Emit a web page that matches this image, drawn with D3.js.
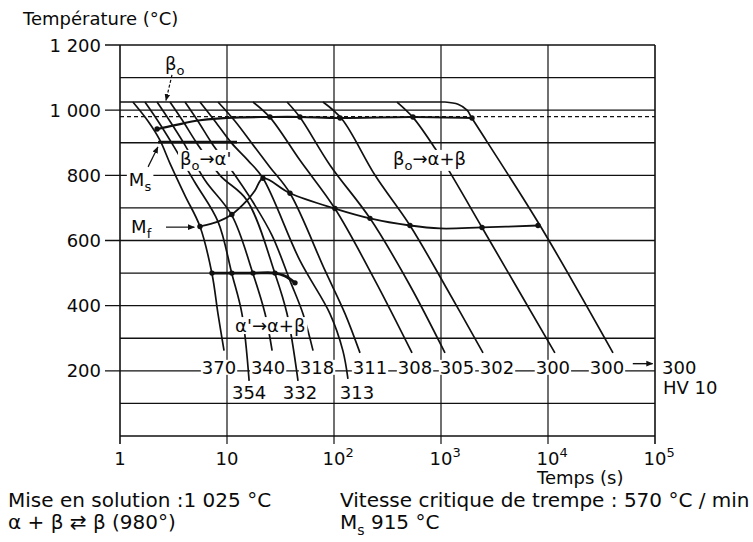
<!DOCTYPE html>
<html><head><meta charset="utf-8">
<script src="https://cdn.jsdelivr.net/npm/d3@7"></script>
<style>
body{margin:0;background:#fff}
svg{display:block}
text{font-family:"DejaVu Sans",sans-serif;fill:#0a0a0a}
</style>
</head><body>
<svg id="c" width="753" height="542"></svg>
<script>
// ---------------- data ----------------
const yGridValues = [100,200,300,400,500,600,700,800,900,1000,1100,1200];
const yTickValues = [200,400,600,800,1000,1200];
const yTickLabels = ["200","400","600","800","1 000","1 200"];
const xTickValues = [1,10,100,1000,10000,100000];
const xTickBase = ["1","10","10","10","10","10"];
const xTickExp = ["","","2","3","4","5"];

const solutionTemp = 1025;   // mise en solution
const transusTemp = 980;     // alpha+beta <-> beta

// cooling curves: [time (s), temperature (°C)]
const c370 = [[1.32,1025],[1.83,966],[2.36,908],[2.93,837],[4.05,738],[5.59,643],[7.24,498],[8.24,375],[9.38,262]];
const c354 = [[1.71,1025],[2.27,966],[3.06,898],[5.02,778],[8.24,658],[11.1,498],[13.8,375],[16.1,169]];
const c340 = [[2.22,1025],[2.93,966],[3.96,898],[6.23,785],[11.1,677],[17.5,498],[22.7,375],[26.4,262]];
const c332 = [[2.93,1025],[3.88,966],[5.24,898],[8.6,800],[15.4,723],[28.1,498],[36.4,375],[46.1,169]];
const c318 = [[4.05,1025],[5.36,966],[7.24,898],[10.7,822],[17.1,723],[26.4,615],[38.8,477],[51.3,375],[63.7,262]];
const c313 = [[5.59,1025],[7.73,966],[11.1,898],[15.7,846],[21.7,791],[48.1,538],[91.8,375],[121,262],[135,175]];
const c311 = [[8.24,1025],[11.9,966],[17.1,898],[25.2,825],[38.8,745],[82.4,508],[127,375],[175,255]];
const c308 = [[17.5,1025],[25.2,978],[48.1,846],[102,698],[242,477],[536,255]];
const c305 = [[36.4,1025],[48.1,978],[91.8,831],[217,668],[513,462],[1090,255]];
const c302 = [[78.9,1025],[119,972],[242,800],[513,646],[1090,462],[2470,255]];
const c300a = [[388,1025],[547,978],[879,883],[1213,809],[2418,640],[11600,255]];
const c300b = [[1090,1025],[1443,1018],[1750,1000],[1950,975],[8420,646],[40500,255]];
const curves = [c370,c354,c340,c332,c318,c313,c311,c308,c305,c302,c300a,c300b];
const hardness = ["370","354","340","332","318","313","311","308","305","302","300","300"];
const hardnessRow = [1,2,1,2,1,2,1,1,1,1,1,1];

// transformation lines
const startLine = [[2.22,942],[3.27,954],[5.59,969],[13.2,978],[25.2,979],[48.1,979],[114,976],[547,979],[1950,976]];
const startDots = [0,4,5,6,7,8];
const msLine = [[2.27,902],[12.4,902]];
const mfLine = [[5.59,643],[8.24,658],[11.1,680],[15.4,723],[18.3,754],[21.7,791],[38.8,745],[102,698],[217,668],[513,646],[979,637],[2418,640],[8070,646]];
const mfDots = [0,2,5,6,7,8,9,11,12];
const lowLine = [[7.24,500],[11.1,500],[17.5,500],[28.1,500],[34.8,491],[43.2,470]];
const lowDots = [0,1,2,3,5];

// ---------------- drawing ----------------
const svg = d3.select("#c");
const x = d3.scaleLog().domain([1,1e5]).range([120,655]);
const y = d3.scaleLinear().domain([0,1200]).range([436,45]);
const ink = "#111";

const grid = svg.append("g").attr("stroke",ink).attr("stroke-width",1.3).attr("fill","none");
grid.selectAll("line.h").data(yGridValues).join("line")
  .attr("x1",d=> yTickValues.includes(d) ? 105 : x(1)).attr("x2",x(1e5))
  .attr("y1",d=>y(d)).attr("y2",d=>y(d));
grid.append("line").attr("x1",x(1)).attr("x2",x(1e5)).attr("y1",y(0)).attr("y2",y(0)).attr("stroke-width",1.6);
grid.selectAll("line.v").data(xTickValues).join("line")
  .attr("x1",d=>x(d)).attr("x2",d=>x(d)).attr("y1",y(1200)).attr("y2",y(0)+8)
  .attr("stroke-width",(d,i)=> (i===0||i===xTickValues.length-1)?1.6:1.2);

const fs = 18;
svg.append("g").selectAll("text").data(yTickValues).join("text")
  .attr("x",101).attr("y",d=>y(d)+6.5).attr("text-anchor","end").attr("font-size",fs)
  .text((d,i)=>yTickLabels[i]);
const xl = svg.append("g");
xTickValues.forEach((v,i)=>{
  const t = xl.append("text").attr("x",x(v)).attr("y",465).attr("text-anchor","middle").attr("font-size",fs).text(xTickBase[i]);
  if(xTickExp[i]){
    const w = t.node().getComputedTextLength();
    xl.append("text").attr("x",x(v)+w/2).attr("y",457).attr("font-size",13).text(xTickExp[i]);
  }
});
svg.append("text").attr("x",23).attr("y",25).attr("font-size",fs).text("Température (°C)");
svg.append("text").attr("x",537).attr("y",484).attr("font-size",fs).text("Temps (s)");

svg.append("line").attr("x1",x(1)).attr("x2",x(c300b[0][0])).attr("y1",y(solutionTemp)).attr("y2",y(solutionTemp))
  .attr("stroke",ink).attr("stroke-width",1.5);
svg.append("line").attr("x1",x(1)).attr("x2",x(1e5)).attr("y1",y(transusTemp)).attr("y2",y(transusTemp))
  .attr("stroke",ink).attr("stroke-width",1.3).attr("stroke-dasharray","4,3");

const line = d3.line().x(d=>x(d[0])).y(d=>y(d[1])).curve(d3.curveCatmullRom.alpha(0.5));
svg.append("g").selectAll("path").data(curves).join("path")
  .attr("d",line).attr("fill","none").attr("stroke",ink).attr("stroke-width",1.7);

function tline(data, w){
  svg.append("path").datum(data).attr("d",line).attr("fill","none").attr("stroke",ink).attr("stroke-width",w);
}
tline(startLine,2.2);
tline(msLine,2.8);
tline(mfLine,1.8);
tline(lowLine,2.8);
function dots(data, idx){
  svg.append("g").selectAll("circle").data(idx.map(i=>data[i])).join("circle")
    .attr("cx",d=>x(d[0])).attr("cy",d=>y(d[1])).attr("r",2.7).attr("fill",ink);
}
dots(startLine,startDots);
dots(mfLine,mfDots);
dots(lowLine,lowDots);

const defs = svg.append("defs");
defs.append("marker").attr("id","ah").attr("viewBox","0 0 10 10").attr("refX",9).attr("refY",5)
  .attr("markerWidth",7).attr("markerHeight",7).attr("orient","auto").attr("markerUnits","userSpaceOnUse")
  .append("path").attr("d","M0,1L10,5L0,9Z").attr("fill",ink);

const lab = svg.append("g");
function rich(px, py, segs, size, anchor){
  const t = lab.append("text").attr("x",px).attr("y",py).attr("font-size",size).attr("text-anchor",anchor||"start");
  let shift = 0;
  segs.forEach(s=>{
    const sp = t.append("tspan").text(s.t);
    const want = s.sub ? Math.round(size*0.3) : 0;
    if(want!==shift){ sp.attr("dy",want-shift); shift = want; }
    if(s.sub) sp.attr("font-size",Math.round(size*0.72));
  });
  return t;
}
function bg(t, padx, pady){
  const b = t.node().getBBox();
  lab.insert("rect",()=>t.node()).attr("x",b.x-padx).attr("y",b.y+(pady||0)).attr("width",b.width+2*padx)
    .attr("height",b.height-2*(pady||0)).attr("fill","#fff");
}

const hvDx = [-5,0,-4,2,4,9,10,3,12,14,-2,-6];
curves.forEach((c,i)=>{
  const last = c[c.length-1];
  const px = x(last[0]) + hvDx[i];
  const py = hardnessRow[i]===1 ? y(200)+3 : y(200)+28;
  const t = rich(px, py, [{t:hardness[i]}], fs, "middle");
  bg(t, 1, 3);
});
svg.append("line").attr("x1",x(62000)).attr("x2",x(95000)).attr("y1",y(222)).attr("y2",y(222))
  .attr("stroke",ink).attr("stroke-width",1.4).attr("marker-end","url(#ah)");
rich(662, y(200)+3, [{t:"300"}], fs);
rich(663, y(200)+23, [{t:"HV 10"}], fs);

rich(x(2.63), y(1123), [{t:"β"},{t:"o",sub:true}], fs);
svg.append("line").attr("x1",x(3.06)).attr("y1",y(1108)).attr("x2",x(2.69)).attr("y2",y(1030))
  .attr("stroke",ink).attr("stroke-width",1.2).attr("stroke-dasharray","3,2").attr("marker-end","url(#ah)");

const tMs = rich(x(1.21), y(767), [{t:"M"},{t:"s",sub:true}], fs);
bg(tMs, 2, 2);
svg.append("line").attr("x1",x(1.83)).attr("y1",y(826)).attr("x2",x(2.26)).attr("y2",y(887))
  .attr("stroke",ink).attr("stroke-width",1.2).attr("marker-end","url(#ah)");

rich(x(1.27), y(623), [{t:"M"},{t:"f",sub:true}], fs);
svg.append("line").attr("x1",x(2.69)).attr("y1",y(641)).attr("x2",x(4.95)).attr("y2",y(641))
  .attr("stroke",ink).attr("stroke-width",1.2).attr("marker-end","url(#ah)");

const tA = rich(x(3.64), y(832), [{t:"β"},{t:"o",sub:true},{t:"→α'"}], fs);
bg(tA, 2, 2);
const tB = rich(x(356), y(832), [{t:"β"},{t:"o",sub:true},{t:"→α+β"}], fs);
bg(tB, 2, 2);
const tC = rich(x(11.9), y(319), [{t:"α'→α+β"}], fs);
bg(tC, 2, 2);

const fn = 20;
rich(8, 507, [{t:"Mise en solution :1 025 °C"}], fn);
rich(8, 529, [{t:"α + β ⇄ β (980°)"}], fn);
rich(340, 507, [{t:"Vitesse critique de trempe : 570 °C / min"}], fn);
rich(340, 529, [{t:"M"},{t:"s",sub:true},{t:" 915 °C"}], fn);
</script>
</body></html>
